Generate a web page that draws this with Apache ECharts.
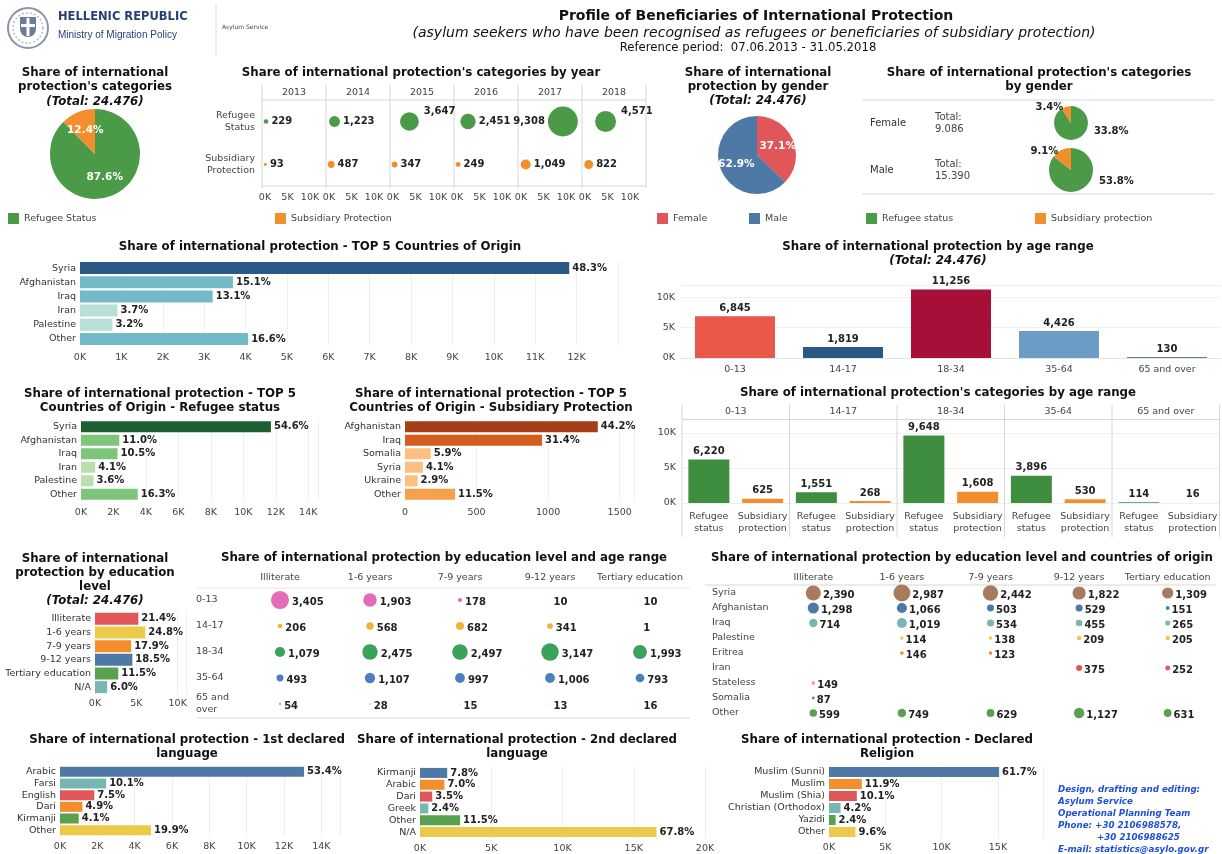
<!DOCTYPE html>
<html><head><meta charset="utf-8"><title>Profile of Beneficiaries of International Protection</title>
<script src="https://cdn.jsdelivr.net/npm/echarts@6/dist/echarts.min.js"></script>
<style>html,body{margin:0;padding:0;background:#fff;overflow:hidden}#c{width:1222px;height:854px}</style>
</head><body><div id="c"></div>
<script>
// ================= DATA =================
const years = ['2013','2014','2015','2016','2017','2018'];
const yearRefugee = [229,1223,3647,2451,9308,4571];
const yearSubsidiary = [93,487,347,249,1049,822];
const yearRowLabels = ['Subsidiary\nProtection','Refugee\nStatus'];

const categoryNames = ['Refugee Status','Subsidiary Protection'];
const categoryValues = [21429,3047];
const categoryPct = ['87.6%','12.4%'];

const genderNames = ['Female','Male'];
const genderValues = [9086,15390];
const genderPct = ['37.1%','62.9%'];

const genderCatNames = ['Refugee status','Subsidiary protection'];
const femaleCatValues = [8254,832];
const maleCatValues = [13163,2227];
const femaleCatPct = ['33.8%','3.4%'];
const maleCatPct = ['53.8%','9.1%'];

const topCountries = ['Syria','Afghanistan','Iraq','Iran','Palestine','Other'];
const topCountriesValues = [11822,3696,3206,906,783,4063];
const topCountriesPct = ['48.3%','15.1%','13.1%','3.7%','3.2%','16.6%'];

const ageRanges = ['0-13','14-17','18-34','35-64','65 and over'];
const ageValues = [6845,1819,11256,4426,130];

const refCountries = ['Syria','Afghanistan','Iraq','Iran','Palestine','Other'];
const refCountriesValues = [11700,2357,2250,879,771,3493];
const refCountriesPct = ['54.6%','11.0%','10.5%','4.1%','3.6%','16.3%'];

const subCountries = ['Afghanistan','Iraq','Somalia','Syria','Ukraine','Other'];
const subCountriesValues = [1347,957,180,125,88,350];
const subCountriesPct = ['44.2%','31.4%','5.9%','4.1%','2.9%','11.5%'];

const ageCatLabels = ['Refugee\nstatus','Subsidiary\nprotection'];
const ageRefugee = [6220,1551,9648,3896,114];
const ageSubsidiary = [625,268,1608,530,16];

const eduLevels = ['Illiterate','1-6 years','7-9 years','9-12 years','Tertiary education','N/A'];
const eduValues = [5237,6081,4369,4517,2813,1469];
const eduPct = ['21.4%','24.8%','17.9%','18.5%','11.5%','6.0%'];

const eduColumns = ['Illiterate','1-6 years','7-9 years','9-12 years','Tertiary education'];
const eduAgeRows = ['0-13','14-17','18-34','35-64','65 and\nover'];
const eduAge_0_13 = [3405,1903,178,10,10];
const eduAge_14_17 = [206,568,682,341,1];
const eduAge_18_34 = [1079,2475,2497,3147,1993];
const eduAge_35_64 = [493,1107,997,1006,793];
const eduAge_65 = [54,28,15,13,16];

const eduCountryRows = ['Syria','Afghanistan','Iraq','Palestine','Eritrea','Iran','Stateless','Somalia','Other'];
const eduC_Syria = [2390,2987,2442,1822,1309];
const eduC_Afghanistan = [1298,1066,503,529,151];
const eduC_Iraq = [714,1019,534,455,265];
const eduC_Palestine = [null,114,138,209,205];
const eduC_Eritrea = [null,146,123,null,null];
const eduC_Iran = [null,null,null,375,252];
const eduC_Stateless = [149,null,null,null,null];
const eduC_Somalia = [87,null,null,null,null];
const eduC_Other = [599,749,629,1127,631];

const lang1 = ['Arabic','Farsi','English','Dari','Kirmanji','Other'];
const lang1Values = [13070,2472,1836,1199,1004,4871];
const lang1Pct = ['53.4%','10.1%','7.5%','4.9%','4.1%','19.9%'];

const lang2 = ['Kirmanji','Arabic','Dari','Greek','Other','N/A'];
const lang2Values = [1909,1713,857,587,2815,16595];
const lang2Pct = ['7.8%','7.0%','3.5%','2.4%','11.5%','67.8%'];

const religions = ['Muslim (Sunni)','Muslim','Muslim (Shia)','Christian (Orthodox)','Yazidi','Other'];
const religionValues = [15102,2913,2472,1028,587,2350];
const religionPct = ['61.7%','11.9%','10.1%','4.2%','2.4%','9.6%'];

// ================= STYLE =================
const FONT = '"DejaVu Sans", Verdana, sans-serif';
const GREEN = '#4b9a47', ORANGE = '#f28e2b', RED = '#e15759', BLUE = '#4e79a7', TEAL = '#76b7b2', YELLOW = '#edc948', GREEN2 = '#59a14f';
const C_BAR_GREEN = '#3f8e40';
const topCountryColors = ['#2c5985','#72bac6','#72bac6','#b8e0d6','#b8e0d6','#72bac6'];
const ageColors = ['#e8574a','#2a5783','#a50f38','#6a9cc6','#2a5783'];
const refColors = ['#1d5e35','#7dc57a','#7dc57a','#b8dfac','#b8dfac','#7dc57a'];
const subColors = ['#a63f18','#d65b1f','#fbbf82','#fbbf82','#fbbf82','#f6a04b'];
const eduColors = [RED, YELLOW, ORANGE, BLUE, GREEN2, TEAL];
const lang1Colors = [BLUE, TEAL, RED, ORANGE, GREEN2, YELLOW];
const lang2Colors = [BLUE, ORANGE, RED, TEAL, GREEN2, YELLOW];
const relColors = [BLUE, ORANGE, RED, TEAL, GREEN2, YELLOW];
const eduAgeColors = ['#e36cb6','#e8b73a','#3aa35a','#4a7fc1','#d9a066'];
const eduCountryColors = ['#a87b5e', BLUE, TEAL, YELLOW, ORANGE, RED, '#ff9da7', '#9c755f', GREEN2];

const TITLE_FONT = `bold 11.8px ${FONT}`;
const TOTAL_FONT = `italic bold 11.8px ${FONT}`;
const fmtK = v => Math.round(v / 1000) + 'K';
const fmtN = v => v.toLocaleString('en-US');
const bubble = v => 0.31 * Math.sqrt(v);

const grids = [], xAxes = [], yAxes = [], series = [], graphics = [], legends = [];

function txt(s, x, y, o = {}) {
  graphics.push({ type: 'text', silent: true, z: 100, style: {
    text: s, x: x, y: y, font: o.font || `10px ${FONT}`, fill: o.color || '#333',
    align: o.align || 'center', verticalAlign: 'middle', textAlign: o.align || 'center', textVerticalAlign: 'middle' } });
}
function line(x1, y1, x2, y2, c) {
  graphics.push({ type: 'line', silent: true, z: 1, shape: { x1, y1, x2, y2 }, style: { stroke: c || '#d6d6d6', lineWidth: 1 } });
}
function addGrid(g) { g.outerBoundsMode = 'none'; g.containLabel = false; grids.push(g); return grids.length - 1; }

const axisLabelBase = { fontFamily: FONT, fontSize: 9.5, color: '#444' };
const valueLabel = { show: true, fontFamily: FONT, fontWeight: 'bold', fontSize: 10, color: '#222' };

function hbar(c) {
  const gi = addGrid({ left: c.left, top: c.top, width: c.width, height: c.height });
  xAxes.push({ gridIndex: gi, type: 'value', min: 0, max: c.max, interval: c.interval,
    axisLabel: Object.assign({}, axisLabelBase, { formatter: c.fmt || fmtK, margin: c.xMargin, showMaxLabel: !!c.showMax }),
    splitLine: { show: true, lineStyle: { color: '#efefef' } }, axisLine: { show: false }, axisTick: { show: false } });
  yAxes.push({ gridIndex: gi, type: 'category', data: c.cats, inverse: true,
    axisLabel: Object.assign({}, axisLabelBase, { margin: 4, color: '#333', interval: 0 }),
    axisLine: { show: false }, axisTick: { show: false } });
  series.push({ type: 'bar', xAxisIndex: gi, yAxisIndex: gi, barWidth: c.barWidth,
    data: c.vals.map((v, i) => ({ value: v, itemStyle: { color: c.colors[i] } })),
    label: Object.assign({}, valueLabel, { position: 'right', distance: 3, formatter: p => c.pcts[p.dataIndex] }) });
}

// ================= HEADER =================
graphics.push({ type: 'circle', silent: true, shape: { cx: 28, cy: 28, r: 20 }, style: { fill: '#fff', stroke: '#8a94a6', lineWidth: 2 } });
graphics.push({ type: 'circle', silent: true, shape: { cx: 28, cy: 28, r: 15 }, style: { fill: 'none', stroke: '#b5bcc8', lineWidth: 1.5, lineDash: [2, 2] } });
graphics.push({ type: 'rect', silent: true, shape: { x: 20, y: 17, width: 16, height: 20, r: [0, 0, 8, 8] }, style: { fill: '#6d7d99' } });
graphics.push({ type: 'rect', silent: true, shape: { x: 26.5, y: 18, width: 3, height: 18 }, style: { fill: '#fff' } });
graphics.push({ type: 'rect', silent: true, shape: { x: 21, y: 24, width: 14, height: 3 }, style: { fill: '#fff' } });
txt('HELLENIC REPUBLIC', 58, 17, { font: `bold 11.5px ${FONT}`, color: '#283f75', align: 'left' });
txt('Ministry of Migration Policy', 58, 35, { font: `10px "Liberation Sans", Arial, sans-serif`, color: '#283f75', align: 'left' });
line(216, 4, 216, 56, '#dddddd');
txt('Asylum Service', 222, 27, { font: `6px ${FONT}`, color: '#444', align: 'left' });
txt('Profile of Beneficiaries of International Protection', 756, 16, { font: `bold 14px ${FONT}`, color: '#111' });
txt('(asylum seekers who have been recognised as refugees or beneficiaries of subsidiary protection)', 754, 33, { font: `italic 14px ${FONT}`, color: '#111' });
txt('Reference period:  07.06.2013 - 31.05.2018', 748, 48, { font: `11.7px ${FONT}`, color: '#111' });

// ================= SECTION 1 =================
txt("Share of international", 95, 73, { font: TITLE_FONT, color: '#111' });
txt("protection's categories", 95, 87, { font: TITLE_FONT, color: '#111' });
txt("(Total: 24.476)", 95, 102, { font: TOTAL_FONT, color: '#111' });
series.push({ type: 'pie', center: [95, 154], radius: 45, startAngle: 90, clockwise: true,
  data: categoryNames.map((n, i) => ({ name: n, value: categoryValues[i], itemStyle: { color: [GREEN, ORANGE][i] } })),
  label: { show: true, position: 'inside', formatter: p => categoryPct[p.dataIndex], color: '#fff', fontFamily: FONT, fontWeight: 'bold', fontSize: 10.5 },
  labelLine: { show: false }, emphasis: { disabled: true } });

txt("Share of international protection's categories by year", 421, 73, { font: TITLE_FONT, color: '#111' });
const yearPanelLeft = 262, yearPanelW = 64;
years.forEach((yr, i) => {
  const px = yearPanelLeft + i * yearPanelW;
  txt(yr, px + yearPanelW / 2, 93, { font: `9.5px ${FONT}`, color: '#444' });
  const gi = addGrid({ left: px + 3, top: 100, width: 58.5, height: 86 });
  xAxes.push({ gridIndex: gi, type: 'value', min: 0, max: 13000, interval: 5000,
    axisLabel: Object.assign({}, axisLabelBase, { formatter: fmtK, margin: 7, showMaxLabel: false }),
    splitLine: { show: false }, axisLine: { show: false }, axisTick: { show: false } });
  yAxes.push({ gridIndex: gi, type: 'category', data: yearRowLabels,
    axisLabel: Object.assign({}, axisLabelBase, { show: i === 0, margin: 10, align: 'right', lineHeight: 12, interval: 0 }),
    axisLine: { show: false }, axisTick: { show: false } });
  const rv = yearRefugee[i];
  let lab = {};
  if (rv === Math.max(...yearRefugee)) lab = { position: 'left' };
  else if (rv > 3000) lab = { position: 'right', offset: [2, -10] };
  series.push({ type: 'scatter', xAxisIndex: gi, yAxisIndex: gi, symbolSize: d => bubble(d[0]),
    itemStyle: { color: GREEN, opacity: 1 },
    data: [{ value: [rv, 1], label: lab }],
    label: Object.assign({}, valueLabel, { position: 'right', distance: 3, formatter: p => fmtN(p.value[0]) }) });
  series.push({ type: 'scatter', xAxisIndex: gi, yAxisIndex: gi, symbolSize: d => bubble(d[0]),
    itemStyle: { color: ORANGE, opacity: 1 },
    data: [[yearSubsidiary[i], 0]],
    label: Object.assign({}, valueLabel, { position: 'right', distance: 3, formatter: p => fmtN(p.value[0]) }) });
});
for (let i = 0; i <= years.length; i++) line(yearPanelLeft + i * yearPanelW, 85, yearPanelLeft + i * yearPanelW, 188);
line(yearPanelLeft, 100, yearPanelLeft + years.length * yearPanelW, 100);
line(yearPanelLeft, 186, yearPanelLeft + years.length * yearPanelW, 186);

txt("Share of international", 758, 73, { font: TITLE_FONT, color: '#111' });
txt("protection by gender", 758, 87, { font: TITLE_FONT, color: '#111' });
txt("(Total: 24.476)", 758, 101, { font: TOTAL_FONT, color: '#111' });
series.push({ type: 'pie', center: [757, 155], radius: 39, startAngle: 90, clockwise: true,
  data: genderNames.map((n, i) => ({ name: n, value: genderValues[i], itemStyle: { color: [RED, BLUE][i] } })),
  label: { show: true, position: 'inside', formatter: p => genderPct[p.dataIndex], color: '#fff', fontFamily: FONT, fontWeight: 'bold', fontSize: 10.5 },
  labelLine: { show: false }, emphasis: { disabled: true } });

txt("Share of international protection's categories", 1039, 73, { font: TITLE_FONT, color: '#111' });
txt("by gender", 1039, 87, { font: TITLE_FONT, color: '#111' });
line(862, 100, 1214, 100); line(862, 194, 1214, 194);
const pieK = 22 / Math.sqrt(15390);
[[femaleCatValues, femaleCatPct, 123], [maleCatValues, maleCatPct, 170]].forEach((row, ri) => {
  const vals = row[0], pcts = row[1], cy = row[2], cx = 1071;
  const tot = vals[0] + vals[1];
  const r = pieK * Math.sqrt(tot);
  txt(genderNames[ri], 870, cy, { font: `10px ${FONT}`, color: '#333', align: 'left' });
  txt('Total:', 935, cy - 6, { font: `10px ${FONT}`, color: '#444', align: 'left' });
  txt(genderValues[ri].toLocaleString('de-DE'), 935, cy + 6, { font: `10px ${FONT}`, color: '#444', align: 'left' });
  const midAng = (90 + 180 * vals[1] / tot) * Math.PI / 180;
  series.push({ type: 'pie', center: [cx, cy], radius: r, startAngle: 90, clockwise: true,
    data: genderCatNames.map((n, i) => ({ name: n, value: vals[i], itemStyle: { color: [GREEN, ORANGE][i] } })),
    label: { show: true, position: 'outside', formatter: p => pcts[p.dataIndex], color: '#222', fontFamily: FONT, fontWeight: 'bold', fontSize: 10 },
    labelLine: { show: false }, emphasis: { disabled: true },
    labelLayout: p => p.dataIndex === 1
      ? { x: cx + r * Math.cos(midAng) - 3, y: cy - r * Math.sin(midAng) + 1, align: 'right', verticalAlign: 'middle' }
      : { x: cx + r + 6, y: cy + r * 0.5, align: 'left', verticalAlign: 'middle' } });
});

const legendBase = { icon: 'rect', itemWidth: 11, itemHeight: 11, padding: 0, top: 213, selectedMode: false, textStyle: { fontFamily: FONT, fontSize: 9.5, color: '#444' } };
[['Refugee Status', 8], ['Subsidiary Protection', 275], ['Female', 657], ['Male', 749], ['Refugee status', 866], ['Subsidiary protection', 1035]]
  .forEach(l => legends.push(Object.assign({}, legendBase, { data: [l[0]], left: l[1] })));

// ================= SECTION 2 =================
txt('Share of international protection - TOP 5 Countries of Origin', 320, 247, { font: TITLE_FONT, color: '#111' });
hbar({ cats: topCountries, vals: topCountriesValues, pcts: topCountriesPct, colors: topCountryColors,
  left: 80, top: 261, width: 538, height: 85, max: 13000, interval: 1000, xMargin: 7, barWidth: 12 });

txt('Share of international protection by age range', 938, 247, { font: TITLE_FONT, color: '#111' });
txt('(Total: 24.476)', 938, 261, { font: TOTAL_FONT, color: '#111' });
(function () {
  const gi = addGrid({ left: 681, top: 285, width: 540, height: 73 });
  xAxes.push({ gridIndex: gi, type: 'category', data: ageRanges,
    axisLabel: Object.assign({}, axisLabelBase, { margin: 7, interval: 0 }), axisLine: { show: true, lineStyle: { color: '#e4e4e4' } }, axisTick: { show: false } });
  yAxes.push({ gridIndex: gi, type: 'value', min: 0, max: 12000, interval: 5000,
    axisLabel: Object.assign({}, axisLabelBase, { formatter: fmtK, margin: 6, showMaxLabel: false }),
    splitLine: { show: true, lineStyle: { color: '#efefef' } }, axisLine: { show: false }, axisTick: { show: false } });
  series.push({ type: 'bar', xAxisIndex: gi, yAxisIndex: gi, barWidth: 80,
    data: ageValues.map((v, i) => ({ value: v, itemStyle: { color: ageColors[i] } })),
    label: Object.assign({}, valueLabel, { position: 'top', distance: 3, formatter: p => fmtN(p.value) }) });
})();

// ================= SECTION 3 =================
txt('Share of international protection - TOP 5', 160, 394, { font: TITLE_FONT, color: '#111' });
txt('Countries of Origin - Refugee status', 160, 408, { font: TITLE_FONT, color: '#111' });
hbar({ cats: refCountries, vals: refCountriesValues, pcts: refCountriesPct, colors: refColors,
  left: 81, top: 420, width: 237, height: 81, max: 14600, interval: 2000, xMargin: 7, barWidth: 11 });

txt('Share of international protection - TOP 5', 491, 394, { font: TITLE_FONT, color: '#111' });
txt('Countries of Origin - Subsidiary Protection', 491, 408, { font: TITLE_FONT, color: '#111' });
hbar({ cats: subCountries, vals: subCountriesValues, pcts: subCountriesPct, colors: subColors,
  left: 405, top: 420, width: 229, height: 81, max: 1600, interval: 500, xMargin: 7, barWidth: 11, fmt: v => String(v) });

txt("Share of international protection's categories by age range", 938, 393, { font: TITLE_FONT, color: '#111' });
const agePanelLeft = 682, agePanelW = 107.5;
ageRanges.forEach((a, i) => {
  const px = agePanelLeft + i * agePanelW;
  txt(a, px + agePanelW / 2, 412, { font: `9.5px ${FONT}`, color: '#444' });
  const gi = addGrid({ left: px, top: 419, width: agePanelW, height: 84 });
  xAxes.push({ gridIndex: gi, type: 'category', data: ageCatLabels,
    axisLabel: Object.assign({}, axisLabelBase, { margin: 8, interval: 0, lineHeight: 12 }), axisLine: { show: false }, axisTick: { show: false } });
  yAxes.push({ gridIndex: gi, type: 'value', min: 0, max: 12000, interval: 5000,
    axisLabel: Object.assign({}, axisLabelBase, { show: i === 0, formatter: fmtK, margin: 6, showMaxLabel: false }),
    splitLine: { show: true, lineStyle: { color: '#efefef' } }, axisLine: { show: false }, axisTick: { show: false } });
  series.push({ type: 'bar', xAxisIndex: gi, yAxisIndex: gi, barWidth: 41,
    data: [ageRefugee[i], ageSubsidiary[i]].map((v, j) => ({ value: v, itemStyle: { color: [C_BAR_GREEN, ORANGE][j] } })),
    label: Object.assign({}, valueLabel, { position: 'top', distance: 3, formatter: p => fmtN(p.value) }) });
});
for (let i = 0; i <= ageRanges.length; i++) line(agePanelLeft + i * agePanelW, 405, agePanelLeft + i * agePanelW, 537);
line(agePanelLeft, 419.5, agePanelLeft + ageRanges.length * agePanelW, 419.5);

// ================= SECTION 4 =================
txt('Share of international', 95, 559, { font: TITLE_FONT, color: '#111' });
txt('protection by education', 95, 573, { font: TITLE_FONT, color: '#111' });
txt('level', 95, 587, { font: TITLE_FONT, color: '#111' });
txt('(Total: 24.476)', 95, 601, { font: TOTAL_FONT, color: '#111' });
hbar({ cats: eduLevels, vals: eduValues, pcts: eduPct, colors: eduColors,
  left: 95, top: 612, width: 91, height: 82, max: 11000, interval: 5000, xMargin: 5, barWidth: 12 });

txt('Share of international protection by education level and age range', 444, 558, { font: TITLE_FONT, color: '#111' });
(function () {
  const gi = addGrid({ left: 235, top: 587, width: 450, height: 130 });
  xAxes.push({ gridIndex: gi, type: 'category', position: 'top', data: eduColumns,
    axisLabel: Object.assign({}, axisLabelBase, { margin: 4, interval: 0 }), axisLine: { show: false }, axisTick: { show: false }, splitLine: { show: false } });
  yAxes.push({ gridIndex: gi, type: 'category', data: eduAgeRows, inverse: true,
    axisLabel: Object.assign({}, axisLabelBase, { margin: 39, align: 'left', lineHeight: 12, interval: 0 }), axisLine: { show: false }, axisTick: { show: false }, splitLine: { show: false } });
  [eduAge_0_13, eduAge_14_17, eduAge_18_34, eduAge_35_64, eduAge_65].forEach((row, r) => {
    series.push({ type: 'scatter', xAxisIndex: gi, yAxisIndex: gi, symbolSize: d => bubble(d[2]),
      itemStyle: { color: eduAgeColors[r], opacity: 1 },
      data: row.map((v, c) => [c, r, v]),
      label: Object.assign({}, valueLabel, { position: 'right', distance: 3, offset: [0, 2], formatter: p => fmtN(p.value[2]) }) });
  });
})();
line(197, 588, 690, 588, '#e6e6e6');
line(197, 718, 690, 718);

txt('Share of international protection by education level and countries of origin', 962, 558, { font: TITLE_FONT, color: '#111' });
(function () {
  const gi = addGrid({ left: 769, top: 585.5, width: 443, height: 135 });
  xAxes.push({ gridIndex: gi, type: 'category', position: 'top', data: eduColumns,
    axisLabel: Object.assign({}, axisLabelBase, { margin: 3, interval: 0 }), axisLine: { show: false }, axisTick: { show: false }, splitLine: { show: false } });
  yAxes.push({ gridIndex: gi, type: 'category', data: eduCountryRows, inverse: true,
    axisLabel: Object.assign({}, axisLabelBase, { margin: 57, align: 'left', interval: 0 }), axisLine: { show: false }, axisTick: { show: false }, splitLine: { show: false } });
  [eduC_Syria, eduC_Afghanistan, eduC_Iraq, eduC_Palestine, eduC_Eritrea, eduC_Iran, eduC_Stateless, eduC_Somalia, eduC_Other].forEach((row, r) => {
    const pts = [];
    row.forEach((v, c) => { if (v !== null) pts.push([c, r, v]); });
    series.push({ type: 'scatter', xAxisIndex: gi, yAxisIndex: gi, symbolSize: d => bubble(d[2]),
      itemStyle: { color: eduCountryColors[r], opacity: 1 },
      data: pts,
      label: Object.assign({}, valueLabel, { position: 'right', distance: 2, offset: [0, 2], formatter: p => fmtN(p.value[2]) }) });
  });
})();
line(705, 585, 1216, 585);

// ================= SECTION 5 =================
txt('Share of international protection - 1st declared', 187, 740, { font: TITLE_FONT, color: '#111' });
txt('language', 187, 754, { font: TITLE_FONT, color: '#111' });
hbar({ cats: lang1, vals: lang1Values, pcts: lang1Pct, colors: lang1Colors,
  left: 60, top: 766, width: 280, height: 70, max: 15000, interval: 2000, xMargin: 6, barWidth: 10 });

txt('Share of international protection - 2nd declared', 517, 740, { font: TITLE_FONT, color: '#111' });
txt('language', 517, 754, { font: TITLE_FONT, color: '#111' });
hbar({ cats: lang2, vals: lang2Values, pcts: lang2Pct, colors: lang2Colors,
  left: 420, top: 767, width: 285, height: 71, max: 20000, interval: 5000, xMargin: 6, barWidth: 10, showMax: true });

txt('Share of international protection - Declared', 887, 740, { font: TITLE_FONT, color: '#111' });
txt('Religion', 887, 754, { font: TITLE_FONT, color: '#111' });
hbar({ cats: religions, vals: religionValues, pcts: religionPct, colors: relColors,
  left: 829, top: 766, width: 214, height: 72, max: 19000, interval: 5000, xMargin: 5, barWidth: 10 });

const creditFont = `italic bold 8.7px ${FONT}`, creditColor = '#1f4fd6';
txt('Design, drafting and editing:', 1058, 790, { font: creditFont, color: creditColor, align: 'left' });
txt('Asylum Service', 1058, 802, { font: creditFont, color: creditColor, align: 'left' });
txt('Operational Planning Team', 1058, 814, { font: creditFont, color: creditColor, align: 'left' });
txt('Phone: +30 2106988578,', 1058, 826, { font: creditFont, color: creditColor, align: 'left' });
txt('+30 2106988625', 1097, 838, { font: creditFont, color: creditColor, align: 'left' });
txt('E-mail: statistics@asylo.gov.gr', 1058, 850, { font: creditFont, color: creditColor, align: 'left' });

// ================= RENDER =================
const chart = echarts.init(document.getElementById('c'), null, { renderer: 'canvas', width: 1222, height: 854 });
chart.setOption({
  animation: false,
  backgroundColor: '#ffffff',
  textStyle: { fontFamily: FONT },
  tooltip: { show: false },
  grid: grids, xAxis: xAxes, yAxis: yAxes, series: series, legend: legends,
  graphic: { elements: graphics }
});
</script></body></html>
